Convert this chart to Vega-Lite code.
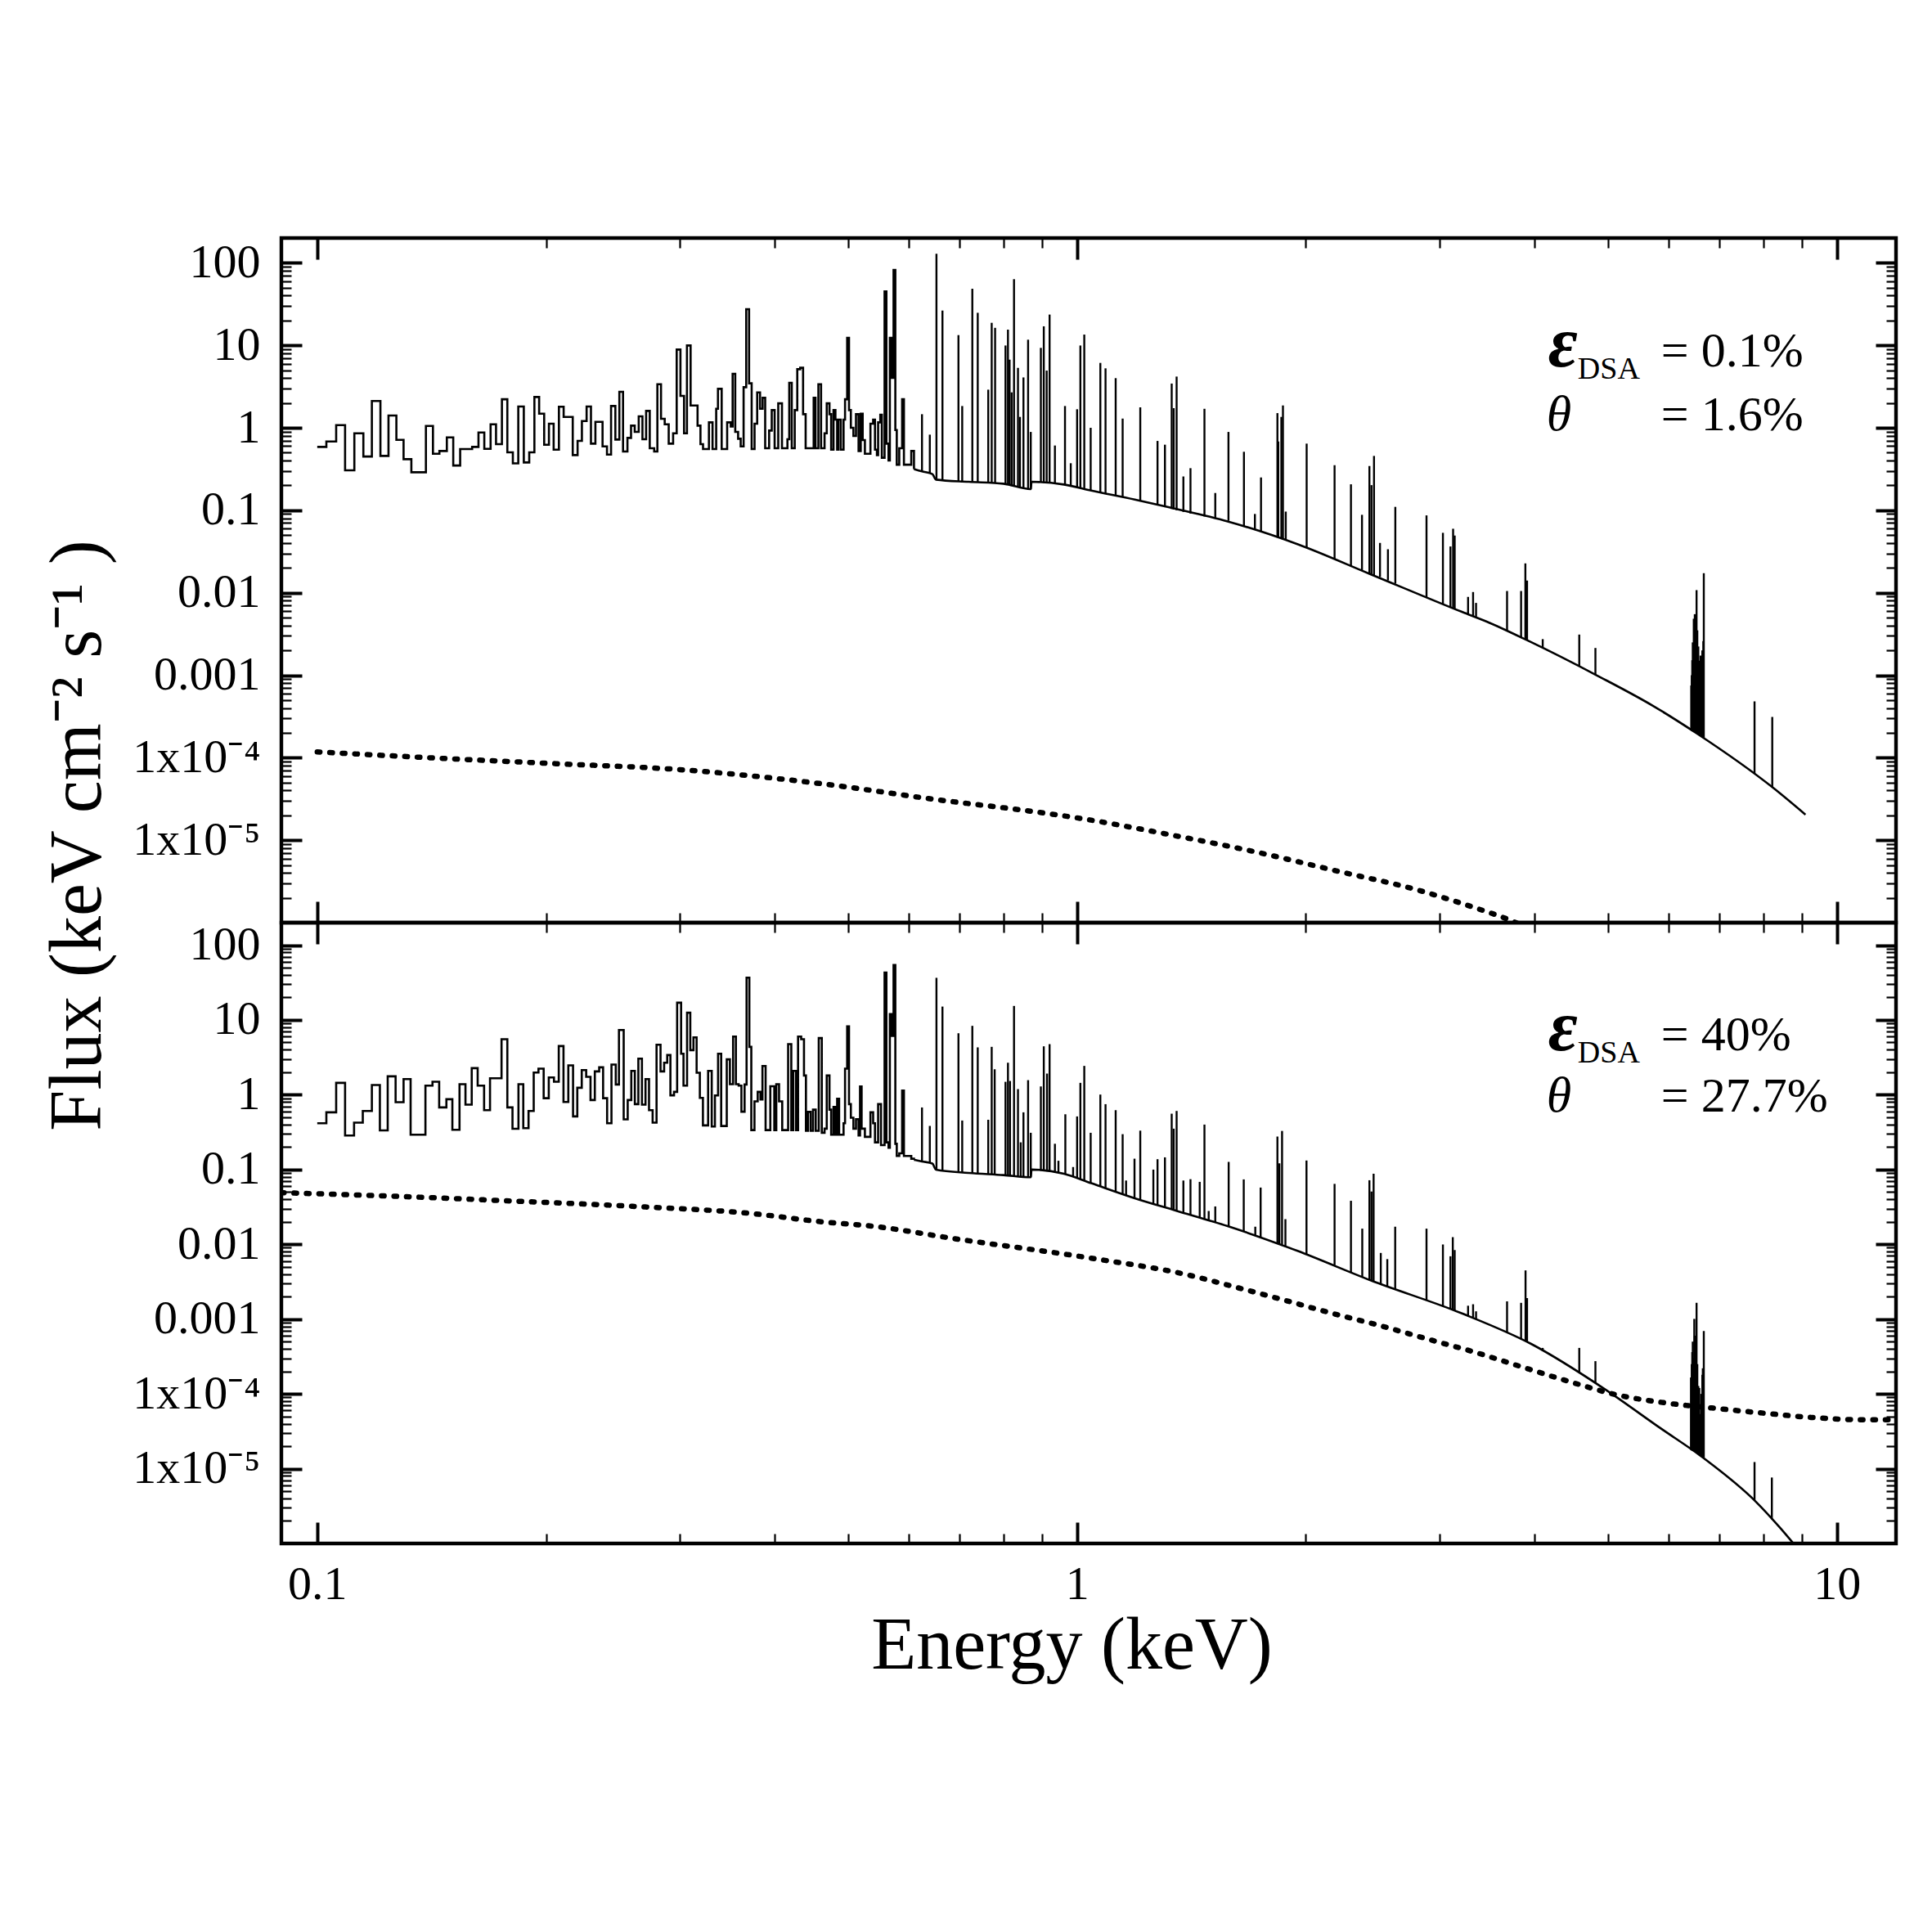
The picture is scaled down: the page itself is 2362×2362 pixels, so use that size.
{
  "$schema": "https://vega.github.io/schema/vega-lite/v6.json",
  "background": "white",
  "autosize": {"type": "pad"},
  "padding": {"left": 47, "top": 286, "right": 0, "bottom": 0},
  "spacing": 0,
  "bounds": "flush",
  "datasets": {
    "hist_top": [
      {"E":0.1000,"F":0.586},{"E":0.1028,"F":0.683},{"E":0.1059,"F":1.078},{"E":0.1088,"F":0.305},{"E":0.1119,"F":0.858},{"E":0.1150,"F":0.449},{"E":0.1180,"F":2.11},{"E":0.1211,"F":0.456},{"E":0.1241,"F":1.408},{"E":0.1271,"F":0.715},{"E":0.1299,"F":0.416},{"E":0.1330,"F":0.289},{"E":0.1390,"F":1.054},{"E":0.1420,"F":0.485},{"E":0.1448,"F":0.523},{"E":0.1481,"F":0.765},{"E":0.1510,"F":0.349},{"E":0.1542,"F":0.552},{"E":0.1599,"F":0.586},{"E":0.1630,"F":0.878},{"E":0.1659,"F":0.556},{"E":0.1691,"F":1.103},{"E":0.1719,"F":0.633},{"E":0.1750,"F":2.22},{"E":0.1779,"F":0.504},{"E":0.1809,"F":0.371},{"E":0.1839,"F":1.81},{"E":0.1870,"F":0.380},{"E":0.1901,"F":0.504},{"E":0.1931,"F":2.36},{"E":0.1959,"F":1.485},{"E":0.1989,"F":0.623},{"E":0.2018,"F":1.12},{"E":0.2047,"F":0.543},{"E":0.2080,"F":1.80},{"E":0.2110,"F":1.355},{"E":0.2169,"F":0.467},{"E":0.2201,"F":0.693},{"E":0.2230,"F":1.209},{"E":0.2262,"F":1.81},{"E":0.2292,"F":0.643},{"E":0.2323,"F":1.181},{"E":0.2374,"F":0.596},{"E":0.2406,"F":0.474},{"E":0.2436,"F":1.838},{"E":0.2468,"F":0.720},{"E":0.2498,"F":2.73},{"E":0.2526,"F":0.515},{"E":0.2560,"F":0.754},{"E":0.2588,"F":1.062},{"E":0.2617,"F":0.892},{"E":0.2649,"F":1.376},{"E":0.2679,"F":0.726},{"E":0.2709,"F":1.602},{"E":0.2739,"F":0.565},{"E":0.2776,"F":0.515},{"E":0.2803,"F":3.38},{"E":0.2834,"F":1.285},{"E":0.2866,"F":1.103},{"E":0.2901,"F":0.643},{"E":0.2940,"F":0.858},{"E":0.2972,"F":8.89},{"E":0.3006,"F":2.435},{"E":0.3039,"F":0.858},{"E":0.3066,"F":9.96},{"E":0.3100,"F":1.866},{"E":0.3166,"F":1.062},{"E":0.3194,"F":0.633},{"E":0.3219,"F":0.552},{"E":0.3277,"F":1.164},{"E":0.3313,"F":0.552},{"E":0.3350,"F":1.70},{"E":0.3368,"F":2.97},{"E":0.3406,"F":0.552},{"E":0.3463,"F":1.164},{"E":0.3501,"F":1.038},{"E":0.3521,"F":4.51},{"E":0.3549,"F":0.892},{"E":0.3580,"F":0.737},{"E":0.3608,"F":0.596},{"E":0.3640,"F":3.11},{"E":0.3669,"F":27.4},{"E":0.3701,"F":3.46},{"E":0.3730,"F":0.552},{"E":0.3763,"F":1.12},{"E":0.3793,"F":2.69},{"E":0.3826,"F":1.70},{"E":0.3856,"F":2.31},{"E":0.3886,"F":0.565},{"E":0.3933,"F":0.926},{"E":0.3964,"F":1.64},{"E":0.3999,"F":0.565},{"E":0.4043,"F":1.98},{"E":0.4089,"F":0.565},{"E":0.4157,"F":0.726},{"E":0.4180,"F":3.51},{"E":0.4212,"F":0.565},{"E":0.4250,"F":1.64},{"E":0.4283,"F":5.14},{"E":0.4321,"F":5.34},{"E":0.4359,"F":1.462},{"E":0.4393,"F":0.565},{"E":0.4501,"F":2.31},{"E":0.4526,"F":0.565},{"E":0.4566,"F":3.38},{"E":0.4603,"F":0.565},{"E":0.4652,"F":0.858},{"E":0.4683,"F":1.98},{"E":0.4722,"F":1.462},{"E":0.4746,"F":0.543},{"E":0.4780,"F":1.64},{"E":0.4808,"F":1.256},{"E":0.4833,"F":0.543},{"E":0.4851,"F":1.256},{"E":0.4887,"F":0.543},{"E":0.4928,"F":1.256},{"E":0.4950,"F":2.22},{"E":0.4982,"F":12.3},{"E":0.5010,"F":1.64},{"E":0.5038,"F":1.0},{"E":0.5077,"F":0.796},{"E":0.5117,"F":1.462},{"E":0.5157,"F":0.523},{"E":0.5191,"F":1.485},{"E":0.5222,"F":0.71},{"E":0.5257,"F":0.485},{"E":0.5346,"F":1.12},{"E":0.5390,"F":1.256},{"E":0.5420,"F":0.543},{"E":0.5452,"F":0.467},{"E":0.5472,"F":1.164},{"E":0.5508,"F":1.44},{"E":0.5534,"F":0.433},{"E":0.5580,"F":45},{"E":0.5611,"F":0.643},{"E":0.5647,"F":0.402},{"E":0.5670,"F":12.3},{"E":0.5700,"F":4.03},{"E":0.5734,"F":82},{"E":0.5765,"F":0.94},{"E":0.5790,"F":0.357},{"E":0.5834,"F":0.565},{"E":0.5885,"F":2.22},{"E":0.5917,"F":0.357},{"E":0.6050,"F":0.523},{"E":0.6100,"F":0.316}
    ],
    "cont_top": [
      {"E":0.61,"F":0.316},{"E":0.625,"F":0.296},{"E":0.645,"F":0.275},{"E":0.652,"F":0.2355},{"E":0.72,"F":0.2213},{"E":0.80,"F":0.2099},{"E":0.869,"F":0.1803},{"E":0.871,"F":0.2213},{"E":0.961,"F":0.2051},{"E":1.044,"F":0.1734},{"E":1.191,"F":0.1349},{"E":1.337,"F":0.106},{"E":1.578,"F":0.0733},{"E":1.956,"F":0.0384},{"E":2.425,"F":0.017},{"E":3.21,"F":0.00586},{"E":3.49,"F":0.00432},{"E":3.92,"F":0.00263},{"E":4.85,"F":0.000977},{"E":5.73,"F":0.000424},{"E":6.535,"F":0.0001977},{"E":8.24,"F":0.0000432},{"E":9.09,"F":0.0000204}
    ],
    "spk_top": [
      {"E":0.625,"lo":0.296,"hi":1.462},{"E":0.640,"lo":0.282,"hi":0.826},{"E":0.653,"lo":0.2355,"hi":128.8},{"E":0.665,"lo":0.233,"hi":26.4},{"E":0.698,"lo":0.2254,"hi":13.3},{"E":0.706,"lo":0.2244,"hi":1.837},{"E":0.728,"lo":0.2203,"hi":48.5},{"E":0.740,"lo":0.2183,"hi":24.8},{"E":0.764,"lo":0.2148,"hi":2.90},{"E":0.772,"lo":0.2138,"hi":18.75},{"E":0.780,"lo":0.2128,"hi":16.3},{"E":0.805,"lo":0.208,"hi":9.95},{"E":0.811,"lo":0.205,"hi":15.5},{"E":0.815,"lo":0.203,"hi":6.7},{"E":0.820,"lo":0.201,"hi":2.69},{"E":0.826,"lo":0.198,"hi":63.4},{"E":0.836,"lo":0.194,"hi":5.33},{"E":0.841,"lo":0.192,"hi":1.355},{"E":0.850,"lo":0.188,"hi":4.08},{"E":0.862,"lo":0.183,"hi":11.7},{"E":0.869,"lo":0.180,"hi":0.891},{"E":0.896,"lo":0.217,"hi":9.31},{"E":0.904,"lo":0.215,"hi":17.0},{"E":0.912,"lo":0.214,"hi":4.94},{"E":0.920,"lo":0.212,"hi":23.6},{"E":0.935,"lo":0.210,"hi":0.61},{"E":0.964,"lo":0.204,"hi":1.837},{"E":0.981,"lo":0.197,"hi":0.372},{"E":1.000,"lo":0.1905,"hi":1.679},{"E":1.010,"lo":0.1866,"hi":9.95},{"E":1.022,"lo":0.182,"hi":13.5},{"E":1.042,"lo":0.1738,"hi":1.0},{"E":1.073,"lo":0.1644,"hi":6.12},{"E":1.090,"lo":0.1596,"hi":5.26},{"E":1.124,"lo":0.150,"hi":4.0},{"E":1.148,"lo":0.1435,"hi":1.294},{"E":1.211,"lo":0.129,"hi":1.77},{"E":1.276,"lo":0.1148,"hi":0.693},{"E":1.305,"lo":0.109,"hi":0.624},{"E":1.332,"lo":0.1035,"hi":3.44},{"E":1.340,"lo":0.1019,"hi":1.73},{"E":1.352,"lo":0.1,"hi":4.18},{"E":1.38,"lo":0.0955,"hi":0.257},{"E":1.41,"lo":0.0912,"hi":0.324},{"E":1.471,"lo":0.0841,"hi":1.70},{"E":1.52,"lo":0.0794,"hi":0.162},{"E":1.582,"lo":0.0745,"hi":0.891},{"E":1.658,"lo":0.0646,"hi":0.512},{"E":1.714,"lo":0.0582,"hi":0.0902},{"E":1.746,"lo":0.0552,"hi":0.250},{"E":1.835,"lo":0.0468,"hi":1.507},{"E":1.84,"lo":0.0465,"hi":0.682},{"E":1.857,"lo":0.0451,"hi":1.355},{"E":1.866,"lo":0.0444,"hi":1.866},{"E":1.882,"lo":0.0432,"hi":0.0964},{"E":2.005,"lo":0.0355,"hi":0.643},{"E":2.182,"lo":0.0254,"hi":0.352},{"E":2.293,"lo":0.0214,"hi":0.2065},{"E":2.371,"lo":0.01875,"hi":0.0881},{"E":2.425,"lo":0.017,"hi":0.344},{"E":2.44,"lo":0.0168,"hi":0.2018},{"E":2.459,"lo":0.0163,"hi":0.456},{"E":2.504,"lo":0.0155,"hi":0.0402},{"E":2.565,"lo":0.0141,"hi":0.0337},{"E":2.623,"lo":0.0129,"hi":0.110},{"E":2.883,"lo":0.00871,"hi":0.0867},{"E":3.03,"lo":0.00724,"hi":0.0533},{"E":3.10,"lo":0.0066,"hi":0.0364},{"E":3.125,"lo":0.00646,"hi":0.0597},{"E":3.14,"lo":0.00631,"hi":0.0494},{"E":3.27,"lo":0.0055,"hi":0.00891},{"E":3.32,"lo":0.00525,"hi":0.0102},{"E":3.35,"lo":0.00513,"hi":0.00753},{"E":3.68,"lo":0.00347,"hi":0.0105},{"E":3.84,"lo":0.00288,"hi":0.0105},{"E":3.89,"lo":0.00272,"hi":0.0227},{"E":3.91,"lo":0.00266,"hi":0.01406},{"E":4.10,"lo":0.00216,"hi":0.00274},{"E":4.58,"lo":0.00129,"hi":0.00311},{"E":4.81,"lo":0.00102,"hi":0.00214},{"E":6.43,"lo":0.000214,"hi":0.00075},{"E":6.44,"lo":0.000212,"hi":0.001},{"E":6.45,"lo":0.000211,"hi":0.00152},{"E":6.46,"lo":0.000209,"hi":0.0025},{"E":6.47,"lo":0.000208,"hi":0.0012},{"E":6.48,"lo":0.000207,"hi":0.00484},{"E":6.50,"lo":0.000204,"hi":0.0055},{"E":6.52,"lo":0.000202,"hi":0.003},{"E":6.535,"lo":0.0002,"hi":0.01076},{"E":6.55,"lo":0.000197,"hi":0.0035},{"E":6.57,"lo":0.000193,"hi":0.00223},{"E":6.59,"lo":0.00019,"hi":0.0015},{"E":6.615,"lo":0.000186,"hi":0.00173},{"E":6.63,"lo":0.000183,"hi":0.0012},{"E":6.65,"lo":0.00018,"hi":0.002},{"E":6.66,"lo":0.000178,"hi":0.0013},{"E":6.67,"lo":0.000176,"hi":0.00259},{"E":6.68,"lo":0.000174,"hi":0.01726},{"E":7.79,"lo":0.0000646,"hi":0.000482},{"E":8.22,"lo":0.0000437,"hi":0.000312}
    ],
    "pl_top": [
      {"E":0.1,"F":0.0001175},{"E":0.1458,"F":0.0000982},{"E":0.2009,"F":0.0000855},{"E":0.3055,"F":0.0000708},{"E":0.4763,"F":0.0000466},{"E":0.640,"F":0.0000318},{"E":0.893,"F":0.0000217},{"E":0.998,"F":0.0000187},{"E":1.341,"F":0.0000114},{"E":1.717,"F":0.00000721},{"E":2.197,"F":0.00000423},{"E":2.81,"F":0.00000248},{"E":3.342,"F":0.00000151},{"E":3.688,"F":0.0000011},{"E":3.85,"F":0.00000093}
    ],
    "hist_bot": [
      {"E":0.1000,"F":0.416},{"E":0.1028,"F":0.582},{"E":0.1059,"F":1.441},{"E":0.1088,"F":0.285},{"E":0.1118,"F":0.423},{"E":0.1148,"F":0.607},{"E":0.1180,"F":1.347},{"E":0.1209,"F":0.334},{"E":0.1238,"F":1.762},{"E":0.1268,"F":0.794},{"E":0.1299,"F":1.621},{"E":0.1327,"F":0.292},{"E":0.1388,"F":1.325},{"E":0.1418,"F":1.490},{"E":0.1447,"F":0.677},{"E":0.1479,"F":0.871},{"E":0.1506,"F":0.340},{"E":0.1539,"F":1.382},{"E":0.1567,"F":0.736},{"E":0.1597,"F":2.267},{"E":0.1626,"F":1.325},{"E":0.1658,"F":0.622},{"E":0.1688,"F":1.662},{"E":0.1748,"F":5.52},{"E":0.1779,"F":0.677},{"E":0.1807,"F":0.351},{"E":0.1840,"F":1.382},{"E":0.1867,"F":0.357},{"E":0.1897,"F":0.607},{"E":0.1927,"F":1.983},{"E":0.1955,"F":2.230},{"E":0.1986,"F":0.900},{"E":0.2017,"F":1.704},{"E":0.2049,"F":1.490},{"E":0.2079,"F":4.48},{"E":0.2109,"F":0.800},{"E":0.2140,"F":2.466},{"E":0.2171,"F":0.513},{"E":0.2199,"F":1.239},{"E":0.2229,"F":2.138},{"E":0.2259,"F":1.734},{"E":0.2289,"F":0.849},{"E":0.2319,"F":2.050},{"E":0.2350,"F":2.325},{"E":0.2378,"F":0.900},{"E":0.2407,"F":0.416},{"E":0.2439,"F":2.529},{"E":0.2471,"F":1.370},{"E":0.2495,"F":7.35},{"E":0.2531,"F":0.468},{"E":0.2562,"F":0.849},{"E":0.2590,"F":2.085},{"E":0.2618,"F":0.748},{"E":0.2646,"F":3.04},{"E":0.2675,"F":0.736},{"E":0.2704,"F":1.621},{"E":0.2733,"F":0.622},{"E":0.2763,"F":0.423},{"E":0.2796,"F":4.67},{"E":0.2830,"F":2.050},{"E":0.2861,"F":2.682},{"E":0.2888,"F":3.39},{"E":0.2916,"F":0.981},{"E":0.2948,"F":1.094},{"E":0.2976,"F":17.0},{"E":0.3012,"F":3.54},{"E":0.3034,"F":1.325},{"E":0.3067,"F":12.5},{"E":0.3097,"F":3.95},{"E":0.3127,"F":5.86},{"E":0.3157,"F":1.966},{"E":0.3188,"F":0.908},{"E":0.3218,"F":0.389},{"E":0.3269,"F":2.085},{"E":0.3305,"F":0.376},{"E":0.3337,"F":0.979},{"E":0.3369,"F":3.54},{"E":0.3401,"F":0.382},{"E":0.3459,"F":2.97},{"E":0.3492,"F":1.382},{"E":0.3526,"F":6.0},{"E":0.3556,"F":1.382},{"E":0.3586,"F":1.322},{"E":0.3616,"F":0.594},{"E":0.3651,"F":1.370},{"E":0.3673,"F":36.8},{"E":0.3704,"F":4.37},{"E":0.3726,"F":0.337},{"E":0.3762,"F":0.814},{"E":0.3799,"F":1.094},{"E":0.3831,"F":0.864},{"E":0.3854,"F":2.425},{"E":0.3891,"F":0.337},{"E":0.3947,"F":1.300},{"E":0.3995,"F":0.337},{"E":0.4019,"F":1.382},{"E":0.4053,"F":0.814},{"E":0.4092,"F":0.337},{"E":0.4166,"F":4.75},{"E":0.4206,"F":0.337},{"E":0.4231,"F":2.085},{"E":0.4267,"F":0.337},{"E":0.4293,"F":6.0},{"E":0.4334,"F":5.52},{"E":0.4371,"F":1.807},{"E":0.4397,"F":0.329},{"E":0.4424,"F":0.589},{"E":0.4460,"F":0.329},{"E":0.4492,"F":0.632},{"E":0.4529,"F":0.329},{"E":0.4571,"F":5.72},{"E":0.4613,"F":0.310},{"E":0.4652,"F":0.352},{"E":0.4683,"F":1.807},{"E":0.4722,"F":0.632},{"E":0.4746,"F":0.292},{"E":0.4780,"F":0.689},{"E":0.4808,"F":0.292},{"E":0.4833,"F":0.885},{"E":0.4862,"F":0.292},{"E":0.4928,"F":0.416},{"E":0.4950,"F":2.23},{"E":0.4982,"F":8.2},{"E":0.5010,"F":0.748},{"E":0.5038,"F":0.492},{"E":0.5077,"F":0.352},{"E":0.5117,"F":0.472},{"E":0.5157,"F":0.285},{"E":0.5180,"F":1.29},{"E":0.5205,"F":0.352},{"E":0.5257,"F":0.2735},{"E":0.5346,"F":0.582},{"E":0.5390,"F":0.416},{"E":0.5420,"F":0.231},{"E":0.5472,"F":0.748},{"E":0.5520,"F":0.212},{"E":0.5580,"F":42.9},{"E":0.5611,"F":0.231},{"E":0.5647,"F":0.195},{"E":0.5670,"F":11.97},{"E":0.5700,"F":6.11},{"E":0.5734,"F":54.2},{"E":0.5765,"F":0.221},{"E":0.5790,"F":0.152},{"E":0.5834,"F":0.165},{"E":0.5885,"F":1.14},{"E":0.5917,"F":0.152},{"E":0.6050,"F":0.1396},{"E":0.6100,"F":0.135}
    ],
    "cont_bot": [
      {"E":0.61,"F":0.135},{"E":0.625,"F":0.1282},{"E":0.645,"F":0.1202},{"E":0.652,"F":0.0998},{"E":0.72,"F":0.0902},{"E":0.80,"F":0.0843},{"E":0.869,"F":0.0789},{"E":0.871,"F":0.0998},{"E":0.961,"F":0.0879},{"E":1.044,"F":0.0656},{"E":1.191,"F":0.0413},{"E":1.348,"F":0.0283},{"E":1.578,"F":0.0175},{"E":1.947,"F":0.00822},{"E":2.433,"F":0.0033},{"E":3.227,"F":0.001167},{"E":3.954,"F":0.000469},{"E":4.94,"F":0.0001172},{"E":5.86,"F":0.0000347},{"E":6.68,"F":0.0000138},{"E":7.82,"F":0.00000363},{"E":8.4,"F":0.00000166},{"E":8.9,"F":0.00000083}
    ],
    "spk_bot": [
      {"E":0.625,"lo":0.1282,"hi":0.676},{"E":0.640,"lo":0.123,"hi":0.383},{"E":0.653,"lo":0.1,"hi":36.6},{"E":0.665,"lo":0.0977,"hi":15.1},{"E":0.698,"lo":0.0933,"hi":6.64},{"E":0.706,"lo":0.092,"hi":0.452},{"E":0.728,"lo":0.0891,"hi":8.34},{"E":0.740,"lo":0.0887,"hi":4.30},{"E":0.764,"lo":0.0871,"hi":0.463},{"E":0.772,"lo":0.0863,"hi":4.37},{"E":0.779,"lo":0.0859,"hi":2.19},{"E":0.805,"lo":0.0839,"hi":1.489},{"E":0.811,"lo":0.0834,"hi":2.68},{"E":0.816,"lo":0.083,"hi":1.528},{"E":0.826,"lo":0.082,"hi":15.4},{"E":0.836,"lo":0.0813,"hi":1.189},{"E":0.843,"lo":0.0807,"hi":0.231},{"E":0.850,"lo":0.0804,"hi":0.582},{"E":0.862,"lo":0.0794,"hi":1.567},{"E":0.869,"lo":0.0789,"hi":0.31},{"E":0.896,"lo":0.0964,"hi":1.291},{"E":0.904,"lo":0.0955,"hi":4.44},{"E":0.913,"lo":0.0944,"hi":1.919},{"E":0.920,"lo":0.0933,"hi":4.75},{"E":0.935,"lo":0.0912,"hi":0.221},{"E":0.945,"lo":0.0902,"hi":0.131},{"E":0.965,"lo":0.0871,"hi":0.548},{"E":0.988,"lo":0.0813,"hi":0.108},{"E":1.000,"lo":0.0776,"hi":0.513},{"E":1.010,"lo":0.0741,"hi":1.442},{"E":1.022,"lo":0.0708,"hi":2.43},{"E":1.042,"lo":0.0661,"hi":0.31},{"E":1.073,"lo":0.0603,"hi":1.005},{"E":1.090,"lo":0.0562,"hi":0.748},{"E":1.124,"lo":0.0513,"hi":0.622},{"E":1.148,"lo":0.0479,"hi":0.297},{"E":1.16,"lo":0.0457,"hi":0.0713},{"E":1.19,"lo":0.0417,"hi":0.1396},{"E":1.211,"lo":0.0394,"hi":0.331},{"E":1.26,"lo":0.0347,"hi":0.0998},{"E":1.276,"lo":0.0335,"hi":0.1374},{"E":1.305,"lo":0.0316,"hi":0.1455},{"E":1.332,"lo":0.0295,"hi":0.558},{"E":1.34,"lo":0.0288,"hi":0.352},{"E":1.352,"lo":0.0282,"hi":0.607},{"E":1.38,"lo":0.0266,"hi":0.0713},{"E":1.41,"lo":0.0248,"hi":0.0743},{"E":1.45,"lo":0.0229,"hi":0.0684},{"E":1.471,"lo":0.0219,"hi":0.399},{"E":1.49,"lo":0.0211,"hi":0.0279},{"E":1.52,"lo":0.0197,"hi":0.0321},{"E":1.583,"lo":0.0174,"hi":0.1265},{"E":1.657,"lo":0.0148,"hi":0.0738},{"E":1.716,"lo":0.0132,"hi":0.0172},{"E":1.744,"lo":0.01245,"hi":0.0574},{"E":1.835,"lo":0.01035,"hi":0.276},{"E":1.846,"lo":0.0101,"hi":0.121},{"E":1.861,"lo":0.00989,"hi":0.328},{"E":1.88,"lo":0.00955,"hi":0.0217},{"E":2.004,"lo":0.00741,"hi":0.132},{"E":2.182,"lo":0.00525,"hi":0.0643},{"E":2.293,"lo":0.00427,"hi":0.0382},{"E":2.373,"lo":0.00367,"hi":0.0162},{"E":2.425,"lo":0.00335,"hi":0.0719},{"E":2.44,"lo":0.00326,"hi":0.0508},{"E":2.456,"lo":0.00316,"hi":0.0879},{"E":2.51,"lo":0.00295,"hi":0.00767},{"E":2.56,"lo":0.00275,"hi":0.00634},{"E":2.622,"lo":0.00251,"hi":0.0172},{"E":2.883,"lo":0.00178,"hi":0.0162},{"E":3.03,"lo":0.00148,"hi":0.00995},{"E":3.10,"lo":0.00135,"hi":0.00692},{"E":3.122,"lo":0.00132,"hi":0.01247},{"E":3.14,"lo":0.00129,"hi":0.00838},{"E":3.27,"lo":0.00111,"hi":0.00151},{"E":3.32,"lo":0.00105,"hi":0.00158},{"E":3.35,"lo":0.00101,"hi":0.00127},{"E":3.68,"lo":0.000661,"hi":0.001726},{"E":3.84,"lo":0.000537,"hi":0.00165},{"E":3.892,"lo":0.000501,"hi":0.00448},{"E":3.91,"lo":0.00049,"hi":0.00191},{"E":4.10,"lo":0.000372,"hi":0.000412},{"E":4.58,"lo":0.000195,"hi":0.000412},{"E":4.81,"lo":0.000141,"hi":0.000274},{"E":6.425,"lo":0.0000178,"hi":0.0001656},{"E":6.44,"lo":0.0000176,"hi":0.00025},{"E":6.45,"lo":0.0000174,"hi":0.000362},{"E":6.46,"lo":0.0000173,"hi":0.0005},{"E":6.47,"lo":0.0000172,"hi":0.0003},{"E":6.49,"lo":0.000017,"hi":0.001007},{"E":6.50,"lo":0.0000169,"hi":0.0006},{"E":6.52,"lo":0.0000167,"hi":0.0004},{"E":6.535,"lo":0.0000166,"hi":0.001652},{"E":6.55,"lo":0.0000163,"hi":0.00025},{"E":6.57,"lo":0.00001585,"hi":0.0001276},{"E":6.59,"lo":0.0000155,"hi":0.00012},{"E":6.61,"lo":0.0000151,"hi":0.0000537},{"E":6.63,"lo":0.0000148,"hi":0.0001},{"E":6.65,"lo":0.0000145,"hi":0.00018},{"E":6.66,"lo":0.0000143,"hi":0.00022},{"E":6.68,"lo":0.0000141,"hi":0.000693},{"E":7.79,"lo":0.0000038,"hi":0.00001227},{"E":8.21,"lo":0.0000021,"hi":0.00000762}
    ],
    "pl_bot": [
      {"E":0.0897,"F":0.049},{"E":0.1276,"F":0.04375},{"E":0.183,"F":0.0377},{"E":0.262,"F":0.0321},{"E":0.376,"F":0.0256},{"E":0.457,"F":0.0202},{"E":0.540,"F":0.0174},{"E":0.690,"F":0.0119},{"E":1.044,"F":0.00652},{"E":1.393,"F":0.00394},{"E":1.609,"F":0.00271},{"E":1.871,"F":0.0018},{"E":2.162,"F":0.0012},{"E":2.498,"F":0.000824},{"E":2.885,"F":0.000545},{"E":3.334,"F":0.000362},{"E":3.852,"F":0.000229},{"E":4.449,"F":0.0001456},{"E":5.14,"F":0.0000968},{"E":5.94,"F":0.0000759},{"E":6.95,"F":0.0000638},{"E":8.03,"F":0.0000551},{"E":9.28,"F":0.0000483},{"E":10.86,"F":0.0000451},{"E":11.96,"F":0.0000451}
    ]
  },
  "vconcat": [
    {
      "width": 1974,
      "height": 837,
      "layer": [
        {
          "data": {"name": "hist_top"},
          "mark": {"type": "line", "interpolate": "step-after", "color": "black", "strokeWidth": 2.6, "clip": true},
          "encoding": {
            "x": {"field": "E", "type": "quantitative", "scale": {"type": "log", "domain": [0.0897, 11.96], "nice": false},
                  "axis": {"orient": "bottom", "values": [0.1, 1, 10], "tickSize": -26, "tickWidth": 4, "labels": false, "title": null}},
            "y": {"field": "F", "type": "quantitative", "scale": {"type": "log", "domain": [0.000001, 200], "nice": false},
                  "axis": {"orient": "left", "values": [0.00001, 0.0001, 0.001, 0.01, 0.1, 1, 10, 100], "tickSize": -25, "tickWidth": 4, "labelPadding": 51,
                           "labelExpr": "datum.value > 50 ? '100' : datum.value > 5 ? '10' : datum.value > 0.5 ? '1' : datum.value > 0.05 ? '0.1' : datum.value > 0.005 ? '0.01' : datum.value > 0.0005 ? '0.001' : datum.value > 0.00005 ? '1x10⁻⁴' : '1x10⁻⁵'",
                           "title": "Flux (keV cm⁻² s⁻¹ )", "titleX": -249, "titleY": 730, "titleAngle": -90, "titleAlign": "center", "titleBaseline": "middle"}}
          }
        },
        {
          "data": {"name": "cont_top"},
          "mark": {"type": "line", "interpolate": "monotone", "color": "black", "strokeWidth": 2.6, "clip": true},
          "encoding": {
            "x": {"field": "E", "type": "quantitative", "scale": {"type": "log", "domain": [0.0897, 11.96], "nice": false},
                  "axis": {"orient": "bottom", "values": [0.2,0.3,0.4,0.5,0.6,0.7,0.8,0.9,2,3,4,5,6,7,8,9], "tickSize": -12, "tickWidth": 2.2, "labels": false, "title": null}},
            "y": {"field": "F", "type": "quantitative", "scale": {"type": "log", "domain": [0.000001, 200], "nice": false},
                  "axis": {"orient": "left", "values": [0.000002,0.000003,0.000004,0.000005,0.000006,0.000007,0.000008,0.000009,0.00002,0.00003,0.00004,0.00005,0.00006,0.00007,0.00008,0.00009,0.0002,0.0003,0.0004,0.0005,0.0006,0.0007,0.0008,0.0009,0.002,0.003,0.004,0.005,0.006,0.007,0.008,0.009,0.02,0.03,0.04,0.05,0.06,0.07,0.08,0.09,0.2,0.3,0.4,0.5,0.6,0.7,0.8,0.9,2,3,4,5,6,7,8,9,20,30,40,50,60,70,80,90], "tickSize": -12, "tickWidth": 2.2, "labels": false, "title": null}}
          }
        },
        {
          "data": {"name": "spk_top"},
          "mark": {"type": "rule", "color": "black", "strokeWidth": 2.4, "clip": true},
          "encoding": {
            "x": {"field": "E", "type": "quantitative", "scale": {"type": "log", "domain": [0.0897, 11.96], "nice": false},
                  "axis": {"orient": "top", "values": [0.1, 1, 10], "tickSize": -26, "tickWidth": 4, "labels": false, "title": null}},
            "y": {"field": "lo", "type": "quantitative", "scale": {"type": "log", "domain": [0.000001, 200], "nice": false},
                  "axis": {"orient": "right", "values": [0.00001, 0.0001, 0.001, 0.01, 0.1, 1, 10, 100], "tickSize": -25, "tickWidth": 4, "labels": false, "title": null}},
            "y2": {"field": "hi"}
          }
        },
        {
          "data": {"name": "pl_top"},
          "mark": {"type": "line", "interpolate": "monotone", "color": "black", "strokeWidth": 6.5, "strokeDash": [3.3, 12], "strokeCap": "round", "clip": true},
          "encoding": {
            "x": {"field": "E", "type": "quantitative", "scale": {"type": "log", "domain": [0.0897, 11.96], "nice": false},
                  "axis": {"orient": "top", "values": [0.2,0.3,0.4,0.5,0.6,0.7,0.8,0.9,2,3,4,5,6,7,8,9], "tickSize": -12, "tickWidth": 2.2, "labels": false, "title": null}},
            "y": {"field": "F", "type": "quantitative", "scale": {"type": "log", "domain": [0.000001, 200], "nice": false},
                  "axis": {"orient": "right", "values": [0.000002,0.000003,0.000004,0.000005,0.000006,0.000007,0.000008,0.000009,0.00002,0.00003,0.00004,0.00005,0.00006,0.00007,0.00008,0.00009,0.0002,0.0003,0.0004,0.0005,0.0006,0.0007,0.0008,0.0009,0.002,0.003,0.004,0.005,0.006,0.007,0.008,0.009,0.02,0.03,0.04,0.05,0.06,0.07,0.08,0.09,0.2,0.3,0.4,0.5,0.6,0.7,0.8,0.9,2,3,4,5,6,7,8,9,20,30,40,50,60,70,80,90], "tickSize": -12, "tickWidth": 2.2, "labels": false, "title": null}}
          }
        },
        {
          "data": {"values": [{"E": 4.169, "F": 5.55, "t": "ε"}]},
          "mark": {"type": "text", "align": "left", "baseline": "alphabetic", "font": "Liberation Serif", "fontSize": 88, "fontWeight": "bold", "fontStyle": "italic", "color": "black"},
          "encoding": {"x": {"field": "E", "type": "quantitative", "axis": null, "scale": {"type": "log", "domain": [0.0897, 11.96], "nice": false}}, "y": {"field": "F", "type": "quantitative", "axis": null, "scale": {"type": "log", "domain": [0.000001, 200], "nice": false}}, "text": {"field": "t"}}
        },
        {
          "data": {"values": [{"E": 4.558, "F": 3.94, "t": "DSA"}]},
          "mark": {"type": "text", "align": "left", "baseline": "alphabetic", "font": "Liberation Serif", "fontSize": 38, "color": "black"},
          "encoding": {"x": {"field": "E", "type": "quantitative", "axis": null, "scale": {"type": "log", "domain": [0.0897, 11.96], "nice": false}}, "y": {"field": "F", "type": "quantitative", "axis": null, "scale": {"type": "log", "domain": [0.000001, 200], "nice": false}}, "text": {"field": "t"}}
        },
        {
          "data": {"values": [{"E": 4.149, "F": 0.925, "t": "θ"}]},
          "mark": {"type": "text", "align": "left", "baseline": "alphabetic", "font": "Liberation Serif", "fontSize": 62, "fontStyle": "italic", "color": "black"},
          "encoding": {"x": {"field": "E", "type": "quantitative", "axis": null, "scale": {"type": "log", "domain": [0.0897, 11.96], "nice": false}}, "y": {"field": "F", "type": "quantitative", "axis": null, "scale": {"type": "log", "domain": [0.000001, 200], "nice": false}}, "text": {"field": "t"}}
        },
        {
          "data": {"values": [{"E": 5.87, "F": 5.55, "t": "= 0.1%"}, {"E": 5.87, "F": 0.925, "t": "= 1.6%"}]},
          "mark": {"type": "text", "align": "left", "baseline": "alphabetic", "font": "Liberation Serif", "fontSize": 60, "color": "black"},
          "encoding": {"x": {"field": "E", "type": "quantitative", "axis": null, "scale": {"type": "log", "domain": [0.0897, 11.96], "nice": false}}, "y": {"field": "F", "type": "quantitative", "axis": null, "scale": {"type": "log", "domain": [0.000001, 200], "nice": false}}, "text": {"field": "t"}}
        }
      ],
      "resolve": {"axis": {"x": "independent", "y": "independent"}}
    },
    {
      "width": 1974,
      "height": 759,
      "layer": [
        {
          "data": {"name": "hist_bot"},
          "mark": {"type": "line", "interpolate": "step-after", "color": "black", "strokeWidth": 2.6, "clip": true},
          "encoding": {
            "x": {"field": "E", "type": "quantitative", "scale": {"type": "log", "domain": [0.0897, 11.96], "nice": false},
                  "axis": {"orient": "bottom", "values": [0.1, 1, 10], "tickSize": -26, "tickWidth": 4, "labelPadding": 47,
                           "labelExpr": "datum.value < 0.5 ? '0.1' : datum.value < 5 ? '1' : '10'",
                           "title": "Energy (keV)", "titleX": 966, "titleY": 152, "titleAlign": "center", "titleBaseline": "alphabetic"}},
            "y": {"field": "F", "type": "quantitative", "scale": {"type": "log", "domain": [0.000001, 200], "nice": false},
                  "axis": {"orient": "left", "values": [0.00001, 0.0001, 0.001, 0.01, 0.1, 1, 10, 100], "tickSize": -25, "tickWidth": 4, "labelPadding": 51,
                           "labelExpr": "datum.value > 50 ? '100' : datum.value > 5 ? '10' : datum.value > 0.5 ? '1' : datum.value > 0.05 ? '0.1' : datum.value > 0.005 ? '0.01' : datum.value > 0.0005 ? '0.001' : datum.value > 0.00005 ? '1x10⁻⁴' : '1x10⁻⁵'",
                           "title": null}}
          }
        },
        {
          "data": {"name": "cont_bot"},
          "mark": {"type": "line", "interpolate": "monotone", "color": "black", "strokeWidth": 2.6, "clip": true},
          "encoding": {
            "x": {"field": "E", "type": "quantitative", "scale": {"type": "log", "domain": [0.0897, 11.96], "nice": false},
                  "axis": {"orient": "bottom", "values": [0.2,0.3,0.4,0.5,0.6,0.7,0.8,0.9,2,3,4,5,6,7,8,9], "tickSize": -12, "tickWidth": 2.2, "labels": false, "title": null}},
            "y": {"field": "F", "type": "quantitative", "scale": {"type": "log", "domain": [0.000001, 200], "nice": false},
                  "axis": {"orient": "left", "values": [0.000002,0.000003,0.000004,0.000005,0.000006,0.000007,0.000008,0.000009,0.00002,0.00003,0.00004,0.00005,0.00006,0.00007,0.00008,0.00009,0.0002,0.0003,0.0004,0.0005,0.0006,0.0007,0.0008,0.0009,0.002,0.003,0.004,0.005,0.006,0.007,0.008,0.009,0.02,0.03,0.04,0.05,0.06,0.07,0.08,0.09,0.2,0.3,0.4,0.5,0.6,0.7,0.8,0.9,2,3,4,5,6,7,8,9,20,30,40,50,60,70,80,90], "tickSize": -12, "tickWidth": 2.2, "labels": false, "title": null}}
          }
        },
        {
          "data": {"name": "spk_bot"},
          "mark": {"type": "rule", "color": "black", "strokeWidth": 2.4, "clip": true},
          "encoding": {
            "x": {"field": "E", "type": "quantitative", "scale": {"type": "log", "domain": [0.0897, 11.96], "nice": false},
                  "axis": {"orient": "top", "values": [0.1, 1, 10], "tickSize": -26, "tickWidth": 4, "labels": false, "title": null}},
            "y": {"field": "lo", "type": "quantitative", "scale": {"type": "log", "domain": [0.000001, 200], "nice": false},
                  "axis": {"orient": "right", "values": [0.00001, 0.0001, 0.001, 0.01, 0.1, 1, 10, 100], "tickSize": -25, "tickWidth": 4, "labels": false, "title": null}},
            "y2": {"field": "hi"}
          }
        },
        {
          "data": {"name": "pl_bot"},
          "mark": {"type": "line", "interpolate": "monotone", "color": "black", "strokeWidth": 6.5, "strokeDash": [3.3, 12], "strokeCap": "round", "clip": true},
          "encoding": {
            "x": {"field": "E", "type": "quantitative", "scale": {"type": "log", "domain": [0.0897, 11.96], "nice": false},
                  "axis": {"orient": "top", "values": [0.2,0.3,0.4,0.5,0.6,0.7,0.8,0.9,2,3,4,5,6,7,8,9], "tickSize": -12, "tickWidth": 2.2, "labels": false, "title": null}},
            "y": {"field": "F", "type": "quantitative", "scale": {"type": "log", "domain": [0.000001, 200], "nice": false},
                  "axis": {"orient": "right", "values": [0.000002,0.000003,0.000004,0.000005,0.000006,0.000007,0.000008,0.000009,0.00002,0.00003,0.00004,0.00005,0.00006,0.00007,0.00008,0.00009,0.0002,0.0003,0.0004,0.0005,0.0006,0.0007,0.0008,0.0009,0.002,0.003,0.004,0.005,0.006,0.007,0.008,0.009,0.02,0.03,0.04,0.05,0.06,0.07,0.08,0.09,0.2,0.3,0.4,0.5,0.6,0.7,0.8,0.9,2,3,4,5,6,7,8,9,20,30,40,50,60,70,80,90], "tickSize": -12, "tickWidth": 2.2, "labels": false, "title": null}}
          }
        },
        {
          "data": {"values": [{"E": 4.169, "F": 3.94, "t": "ε"}]},
          "mark": {"type": "text", "align": "left", "baseline": "alphabetic", "font": "Liberation Serif", "fontSize": 88, "fontWeight": "bold", "fontStyle": "italic", "color": "black"},
          "encoding": {"x": {"field": "E", "type": "quantitative", "axis": null, "scale": {"type": "log", "domain": [0.0897, 11.96], "nice": false}}, "y": {"field": "F", "type": "quantitative", "axis": null, "scale": {"type": "log", "domain": [0.000001, 200], "nice": false}}, "text": {"field": "t"}}
        },
        {
          "data": {"values": [{"E": 4.558, "F": 2.70, "t": "DSA"}]},
          "mark": {"type": "text", "align": "left", "baseline": "alphabetic", "font": "Liberation Serif", "fontSize": 38, "color": "black"},
          "encoding": {"x": {"field": "E", "type": "quantitative", "axis": null, "scale": {"type": "log", "domain": [0.0897, 11.96], "nice": false}}, "y": {"field": "F", "type": "quantitative", "axis": null, "scale": {"type": "log", "domain": [0.000001, 200], "nice": false}}, "text": {"field": "t"}}
        },
        {
          "data": {"values": [{"E": 4.149, "F": 0.597, "t": "θ"}]},
          "mark": {"type": "text", "align": "left", "baseline": "alphabetic", "font": "Liberation Serif", "fontSize": 62, "fontStyle": "italic", "color": "black"},
          "encoding": {"x": {"field": "E", "type": "quantitative", "axis": null, "scale": {"type": "log", "domain": [0.0897, 11.96], "nice": false}}, "y": {"field": "F", "type": "quantitative", "axis": null, "scale": {"type": "log", "domain": [0.000001, 200], "nice": false}}, "text": {"field": "t"}}
        },
        {
          "data": {"values": [{"E": 5.87, "F": 3.94, "t": "= 40%"}, {"E": 5.87, "F": 0.597, "t": "= 27.7%"}]},
          "mark": {"type": "text", "align": "left", "baseline": "alphabetic", "font": "Liberation Serif", "fontSize": 60, "color": "black"},
          "encoding": {"x": {"field": "E", "type": "quantitative", "axis": null, "scale": {"type": "log", "domain": [0.0897, 11.96], "nice": false}}, "y": {"field": "F", "type": "quantitative", "axis": null, "scale": {"type": "log", "domain": [0.000001, 200], "nice": false}}, "text": {"field": "t"}}
        }
      ],
      "resolve": {"axis": {"x": "independent", "y": "independent"}}
    }
  ],
  "config": {
    "view": {"stroke": "black", "strokeWidth": 4.4},
    "axis": {"domain": false, "grid": false, "tickColor": "black", "labelColor": "black", "titleColor": "black", "labelFont": "Liberation Serif", "titleFont": "Liberation Serif", "titleFontWeight": "normal", "labelFontSize": 58, "titleFontSize": 90, "labelFlush": false, "labelOverlap": false, "labelBound": false},
    "text": {"font": "Liberation Serif", "color": "black"}
  }
}
